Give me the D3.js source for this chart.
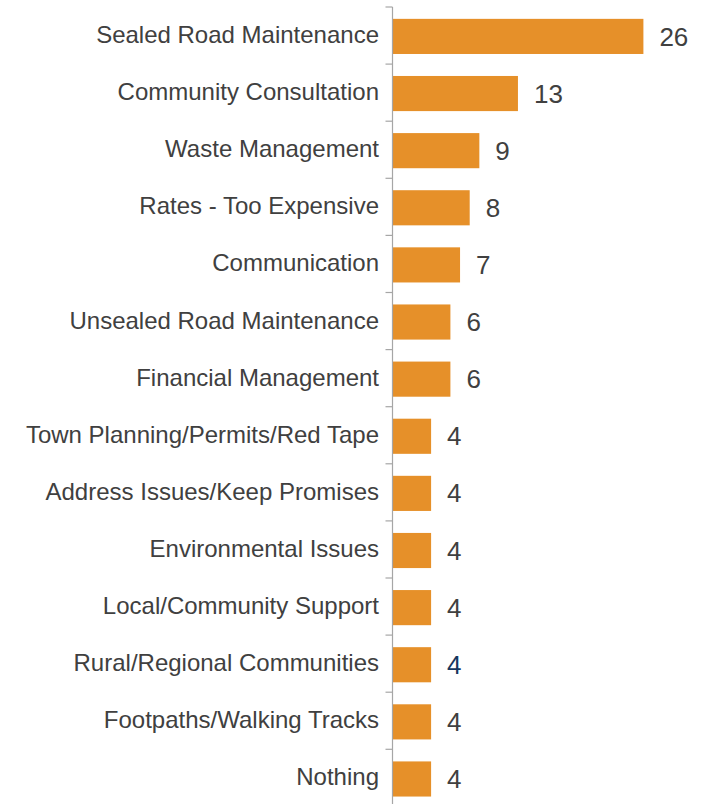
<!DOCTYPE html>
<html>
<head>
<meta charset="utf-8">
<script src="https://cdn.jsdelivr.net/npm/d3@7"></script>
<style>
  html, body { margin: 0; padding: 0; background: #fff; }
  svg { display: block; }
  text { font-family: "Liberation Sans", Arial, sans-serif; }
</style>
</head>
<body>
<svg id="chart" width="703" height="804"></svg>
<script>
// Issue categories, top to bottom
const categories = [
  "Sealed Road Maintenance",
  "Community Consultation",
  "Waste Management",
  "Rates - Too Expensive",
  "Communication",
  "Unsealed Road Maintenance",
  "Financial Management",
  "Town Planning/Permits/Red Tape",
  "Address Issues/Keep Promises",
  "Environmental Issues",
  "Local/Community Support",
  "Rural/Regional Communities",
  "Footpaths/Walking Tracks",
  "Nothing"
];
// Number of mentions per category
const values = [26, 13, 9, 8, 7, 6, 6, 4, 4, 4, 4, 4, 4, 4];
// Value-label colours (one label is set in dark blue)
const labelColors = ["#404040","#404040","#404040","#404040","#404040","#404040","#404040",
                     "#404040","#404040","#404040","#404040","#17375E","#404040","#404040"];

const svg = d3.select("#chart");
const axisX = 392.5;
const plotTop = 8, step = 57.1;

const y = d3.scaleBand()
  .domain(categories)
  .range([plotTop, plotTop + step * categories.length])
  .paddingInner(0.385)
  .paddingOuter(0.19);

const x = d3.scaleLinear()
  .domain([0, 30])
  .range([axisX, axisX + 289.5]);

const data = categories.map((c, i) => ({ c, v: values[i], col: labelColors[i] }));

// Bars
svg.append("g").selectAll("rect")
  .data(data)
  .join("rect")
  .attr("x", x(0) + 0.5)
  .attr("y", d => y(d.c))
  .attr("width", d => x(d.v) - x(0) - 0.5)
  .attr("height", y.bandwidth())
  .attr("fill", "#E69029");

// Vertical axis with ticks between categories
const yAxis = d3.axisLeft(y).tickSize(0).tickPadding(13.5);
const gAxis = svg.append("g")
  .attr("transform", `translate(${axisX},0)`)
  .call(yAxis);
gAxis.select(".domain")
  .attr("d", `M0,${plotTop - 1}V${plotTop + step * categories.length}`)
  .attr("stroke", "#A6A6A6")
  .attr("stroke-width", 1.2);
gAxis.selectAll(".tick text")
  .attr("font-size", 24)
  .attr("fill", "#404040")
  .attr("font-family", "Liberation Sans, Arial, sans-serif")
  .attr("dy", "0.27em");

// Tick marks at category boundaries
const boundaries = d3.range(categories.length + 1).map(i => plotTop - 1 + i * step);
gAxis.append("g").selectAll("line")
  .data(boundaries)
  .join("line")
  .attr("x1", -7).attr("x2", 0)
  .attr("y1", d => d).attr("y2", d => d)
  .attr("stroke", "#A6A6A6")
  .attr("stroke-width", 1.2);

// Value labels
svg.append("g").selectAll("text")
  .data(data)
  .join("text")
  .attr("x", d => x(d.v) + 16)
  .attr("y", d => y(d.c) + y.bandwidth() / 2)
  .attr("dy", "0.35em")
  .attr("font-size", 26)
  .attr("fill", d => d.col)
  .text(d => d.v);
</script>
</body>
</html>
